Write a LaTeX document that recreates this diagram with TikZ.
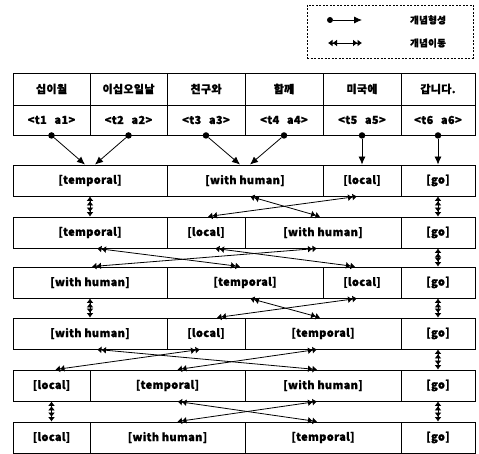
\documentclass[tikz,border=0pt]{standalone}
\usepackage{fontspec}
\setmainfont{Noto Sans CJK KR}[BoldFeatures={FakeBold=1.2}, LetterSpace=3]
\usetikzlibrary{arrows.meta}
\begin{document}
\begin{tikzpicture}[x=1pt,y=-1pt,
  font=\fontsize{11}{13}\selectfont\bfseries,
  cell/.style={draw, line width=0.9pt, inner sep=0pt, minimum height=31pt},
  hcell/.style={draw, line width=0.9pt, inner sep=0pt},
  dot/.style={circle, fill, inner sep=0pt, minimum size=6.5pt},
  form/.style={->, >={Latex[length=8pt,width=7pt]}, line width=0.8pt},
  move/.style={<->, >={Latex[length=4.5pt,width=7pt] Latex[length=4.5pt,width=7pt]}, line width=0.8pt},
  lbl/.style={font=\fontsize{9.5}{11}\selectfont\bfseries}
]
\useasboundingbox (0,0) rectangle (479,454);

% legend
\node[draw, dash pattern=on 2pt off 1.5pt, line width=0.9pt, minimum width=166pt, minimum height=53pt, inner sep=0pt] (legend) at (390,31.5) {};
\node[dot, minimum size=6pt] (ld) at (330,20) {};
\coordinate (le) at (362,20);
\draw[form] (ld) -- (le);
\node[lbl] (lt1) at (428,20) {개념형성};
\coordinate (m1) at (328,43);
\coordinate (m2) at (362,43);
\draw[move] (m1) -- (m2);
\node[lbl] (lt2) at (428,43) {개념이동};

% header table
\node[hcell, minimum width=77pt, minimum height=32pt] (w1) at (51.5,89) {십이월};
\node[hcell, minimum width=77pt, minimum height=32pt] (w2) at (128.5,89) {이십오일날};
\node[hcell, minimum width=78pt, minimum height=32pt] (w3) at (206,89) {친구와};
\node[hcell, minimum width=78pt, minimum height=32pt] (w4) at (284,89) {함께};
\node[hcell, minimum width=78pt, minimum height=32pt] (w5) at (362,89) {미국에};
\node[hcell, minimum width=74pt, minimum height=32pt] (w6) at (438,89) {갑니다.};
\node[hcell, minimum width=77pt, minimum height=30pt] (ta1) at (51.5,120) {<t1\hspace{0.7em}a1>};
\node[hcell, minimum width=77pt, minimum height=30pt] (ta2) at (128.5,120) {<t2\hspace{0.7em}a2>};
\node[hcell, minimum width=78pt, minimum height=30pt] (ta3) at (206,120) {<t3\hspace{0.7em}a3>};
\node[hcell, minimum width=78pt, minimum height=30pt] (ta4) at (284,120) {<t4\hspace{0.7em}a4>};
\node[hcell, minimum width=78pt, minimum height=30pt] (ta5) at (362,120) {<t5\hspace{0.7em}a5>};
\node[hcell, minimum width=74pt, minimum height=30pt] (ta6) at (438,120) {<t6\hspace{0.7em}a6>};
\foreach \i in {1,...,6} { \node[dot] (d\i) at (ta\i.south) {}; }

% row 1
\node[cell, minimum width=154pt] (r1t) at (90,180.5) {[temporal]};
\node[cell, minimum width=156pt] (r1w) at (245,180.5) {[with human]};
\node[cell, minimum width=78pt] (r1l) at (362,180.5) {[local]};
\node[cell, minimum width=74pt] (r1g) at (438,180.5) {[go]};
% row 2
\node[cell, minimum width=154pt] (r2t) at (90,232.5) {[temporal]};
\node[cell, minimum width=78pt] (r2l) at (206,232.5) {[local]};
\node[cell, minimum width=156pt] (r2w) at (323,232.5) {[with human]};
\node[cell, minimum width=74pt] (r2g) at (438,232.5) {[go]};
% row 3
\node[cell, minimum width=154pt] (r3w) at (90,282.5) {[with human]};
\node[cell, minimum width=156pt] (r3t) at (245,282.5) {[temporal]};
\node[cell, minimum width=78pt] (r3l) at (362,282.5) {[local]};
\node[cell, minimum width=74pt] (r3g) at (438,282.5) {[go]};
% row 4
\node[cell, minimum width=154pt] (r4w) at (90,333.5) {[with human]};
\node[cell, minimum width=78pt] (r4l) at (206,333.5) {[local]};
\node[cell, minimum width=156pt] (r4t) at (323,333.5) {[temporal]};
\node[cell, minimum width=74pt] (r4g) at (438,333.5) {[go]};
% row 5
\node[cell, minimum width=77pt] (r5l) at (51.5,385.5) {[local]};
\node[cell, minimum width=155pt] (r5t) at (167.5,385.5) {[temporal]};
\node[cell, minimum width=156pt] (r5w) at (323,385.5) {[with human]};
\node[cell, minimum width=74pt] (r5g) at (438,385.5) {[go]};
% row 6
\node[cell, minimum width=77pt] (r6l) at (51.5,437.5) {[local]};
\node[cell, minimum width=155pt] (r6w) at (167.5,437.5) {[with human]};
\node[cell, minimum width=156pt] (r6t) at (323,437.5) {[temporal]};
\node[cell, minimum width=74pt] (r6g) at (438,437.5) {[go]};

% concept formation
\draw[form] (d1) -- ([xshift=-5pt]r1t.north);
\draw[form] (d2) -- ([xshift=5pt]r1t.north);
\draw[form] (d3) -- ([xshift=-5pt]r1w.north);
\draw[form] (d4) -- ([xshift=5pt]r1w.north);
\draw[form] (d5) -- (r1l.north);
\draw[form] (d6) -- (r1g.north);

% rows 1-2
\draw[move] (r1t.south) -- (r2t.north);
\draw[move] ([xshift=5pt]r1w.south) -- ([xshift=-3pt]r2w.north);
\draw[move] ([xshift=-5pt]r1l.south) -- ([xshift=2pt]r2l.north);
\draw[move] (r1g.south) -- (r2g.north);
% rows 2-3
\draw[move] ([xshift=7pt]r2t.south) -- ([xshift=-5pt]r3t.north);
\draw[move] ([xshift=-6pt]r2w.south) -- ([xshift=2pt]r3w.north);
\draw[move] ([xshift=9pt]r2l.south) -- ([xshift=-7pt]r3l.north);
\draw[move] (r2g.south) -- (r3g.north);
% rows 3-4
\draw[move] (r3w.south) -- (r4w.north);
\draw[move] ([xshift=5pt]r3t.south) -- ([xshift=-3pt]r4t.north);
\draw[move] ([xshift=-5pt]r3l.south) -- ([xshift=11pt]r4l.north);
\draw[move] (r3g.south) -- (r4g.north);
% rows 4-5
\draw[move] ([xshift=7pt]r4w.south) -- ([xshift=-6pt]r5w.north);
\draw[move] ([xshift=-6pt]r4l.south) -- ([xshift=4pt]r5l.north);
\draw[move] ([xshift=-6pt]r4t.south) -- ([xshift=10pt]r5t.north);
\draw[move] (r4g.south) -- (r5g.north);
% rows 5-6
\draw[move] (r5l.south) -- (r6l.north);
\draw[move] ([xshift=10pt]r5t.south) -- ([xshift=-6pt]r6t.north);
\draw[move] ([xshift=-6pt]r5w.south) -- ([xshift=10pt]r6w.north);
\draw[move] (r5g.south) -- (r6g.north);
\end{tikzpicture}
\end{document}
